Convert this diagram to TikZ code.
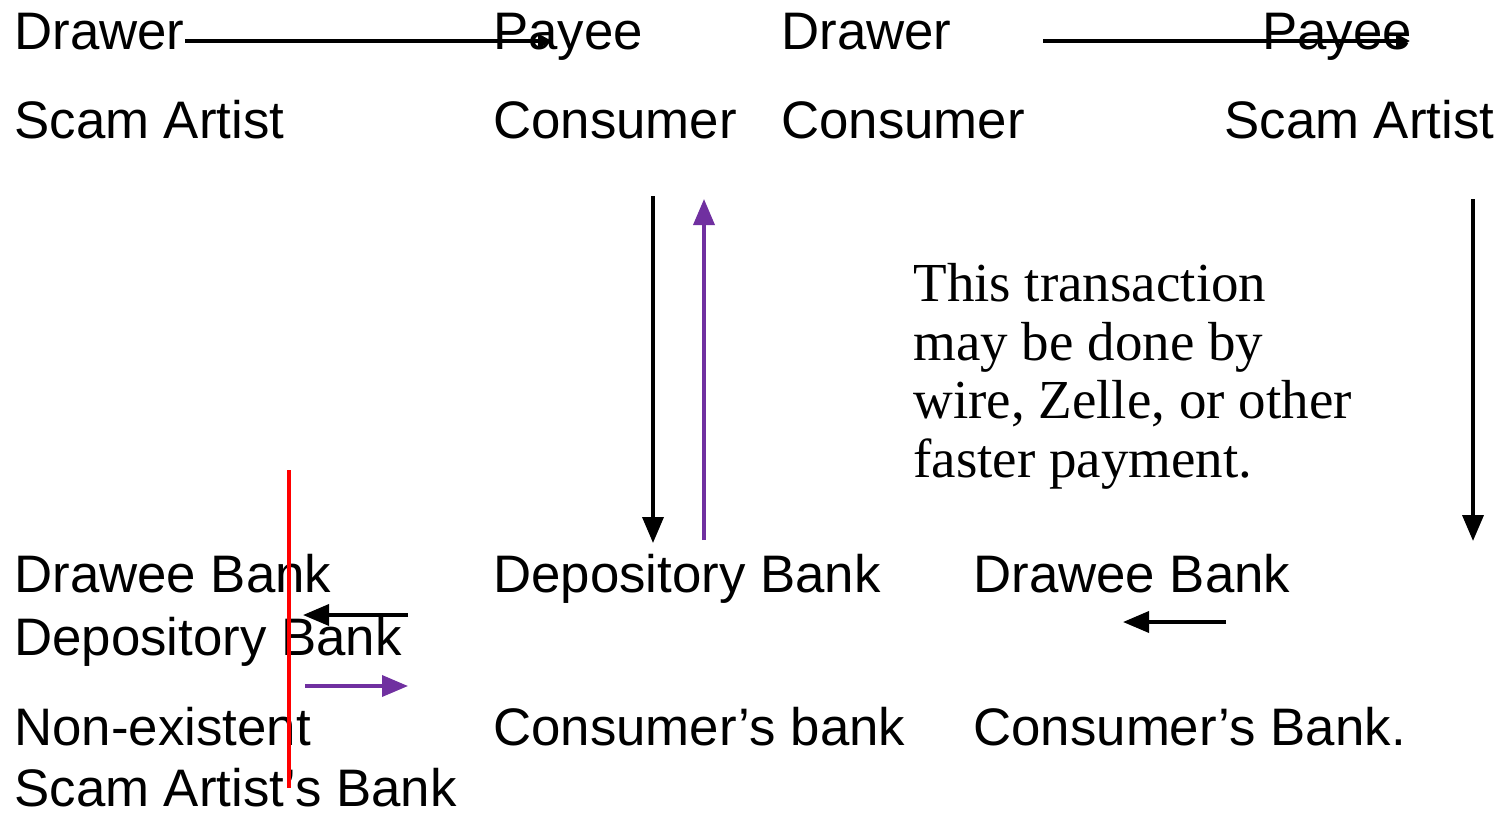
\documentclass[tikz,border=0pt]{standalone}
\usepackage{fontspec}
\setmainfont{Liberation Sans}
\newfontfamily\notefont{Liberation Serif}
\usetikzlibrary{arrows.meta}
\definecolor{flowpurple}{HTML}{7030A0}
\definecolor{cutred}{HTML}{FF0000}
\tikzset{
  label/.style={anchor=base west, inner sep=0pt, font=\fontsize{26.4}{31}\selectfont},
  % multi-line note: its base anchor sits on the last line
  note/.style={anchor=base west, inner sep=0pt, align=left,
    font=\notefont\fontsize{27.5}{29.2}\selectfont},
  flow/.style={line width=1.8pt, -{Triangle[length=13pt,width=10.5pt]}},
  thin flow/.style={line width=1.8pt, -{Triangle[length=7pt,width=7pt]}},
  money/.style={flow, flowpurple},
  cut/.style={line width=1.6pt, cutred},
}
\begin{document}
\begin{tikzpicture}[x=0.5pt, y=-0.5pt]
\useasboundingbox (0,0) rectangle (1505,814);

% left scenario: counterfeit check
\node[label] (drawerL) at (14,49) {Drawer};
\node[label] (payeeL) at (493,49) {Payee};
\node[label] (scamL) at (14,138) {Scam Artist};
\node[label] (consL) at (493,138) {Consumer};

% right scenario: consumer pays scam artist
\node[label] (drawerR) at (781,49) {Drawer};
\node[label] (payeeR) at (1262,49) {Payee};
\node[label] (consR) at (781,138) {Consumer};
\node[label] (scamR) at (1224,138) {Scam Artist};

% banks
\node[label] (draweeL) at (14,592) {Drawee Bank};
\node[label] (deposL) at (14,655) {Depository Bank};
\node[label] (nonex) at (14,745) {Non-existent};
\node[label] (scamBank) at (14,806) {Scam Artist’s Bank};
\node[label] (deposM) at (493,592) {Depository Bank};
\node[label] (consBankM) at (493,745) {Consumer’s bank};
\node[label] (draweeR) at (973,592) {Drawee Bank};
\node[label] (consBankR) at (973,745) {Consumer’s Bank.};

\node[note] (note) at (913,477) {This transaction\\may be done by\\wire, Zelle, or other\\faster payment.};

% arrow end points
\coordinate (t1a) at (185,41);  \coordinate (t1b) at (552,41);
\coordinate (t2a) at (1043,41); \coordinate (t2b) at (1410,41);
\coordinate (d1a) at (653,196); \coordinate (d1b) at (653,543);
\coordinate (u1a) at (704,540); \coordinate (u1b) at (704,199);
\coordinate (d2a) at (1473,199); \coordinate (d2b) at (1473,541);
\coordinate (l1a) at (408,615); \coordinate (l1b) at (303,615);
\coordinate (r1a) at (305,686); \coordinate (r1b) at (408,686);
\coordinate (l2a) at (1226,622); \coordinate (l2b) at (1123,622);
\coordinate (cutA) at (289,470); \coordinate (cutB) at (289,788);

\draw[thin flow] (t1a) -- (t1b);
\draw[thin flow] (t2a) -- (t2b);
\draw[flow] (d1a) -- (d1b);
\draw[money] (u1a) -- (u1b);
\draw[flow] (d2a) -- (d2b);
\draw[flow] (l1a) -- (l1b);
\draw[money] (r1a) -- (r1b);
\draw[flow] (l2a) -- (l2b);
\draw[cut] (cutA) -- (cutB);
\end{tikzpicture}
\end{document}
